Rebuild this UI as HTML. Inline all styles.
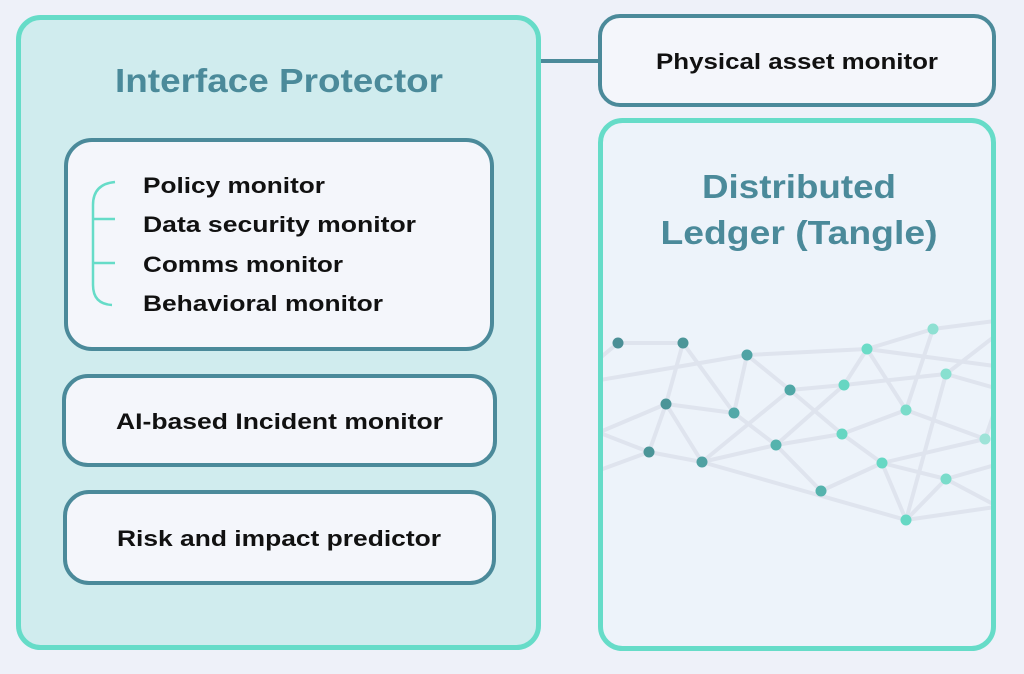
<!DOCTYPE html>
<html><head><meta charset="utf-8"><style>
html,body{margin:0;padding:0;background:#eef1f9;}
svg{display:block;}
text{font-family:"Liberation Sans",sans-serif;font-weight:bold;}
</style></head><body>
<svg width="1024" height="674" viewBox="0 0 1024 674" xmlns="http://www.w3.org/2000/svg">
<rect x="0" y="0" width="1024" height="674" fill="#eef1f9"/>
<line x1="540" y1="61" x2="600" y2="61" stroke="#4b8a9a" stroke-width="4"/>
<rect x="18.5" y="17.5" width="520" height="630" rx="22" fill="#d0ecee" stroke="#66dcc8" stroke-width="5"/>
<text x="279" y="92" font-size="33" fill="#4b8a9a" text-anchor="middle" textLength="328" lengthAdjust="spacingAndGlyphs">Interface Protector</text>
<rect x="66" y="140" width="426" height="209" rx="26" fill="#f4f6fb" stroke="#4b8a9a" stroke-width="4"/>
<path d="M115 182 Q93 184 93 205 L93 285 Q93 304 112 305" fill="none" stroke="#66dcc8" stroke-width="2.5"/>
<line x1="93" y1="219" x2="115" y2="219" stroke="#66dcc8" stroke-width="2.5"/>
<line x1="93" y1="263" x2="115" y2="263" stroke="#66dcc8" stroke-width="2.5"/>
<g font-size="22" fill="#111">
<text x="143" y="193" textLength="182" lengthAdjust="spacingAndGlyphs">Policy monitor</text>
<text x="143" y="232" textLength="273" lengthAdjust="spacingAndGlyphs">Data security monitor</text>
<text x="143" y="272" textLength="200" lengthAdjust="spacingAndGlyphs">Comms monitor</text>
<text x="143" y="311" textLength="240" lengthAdjust="spacingAndGlyphs">Behavioral monitor</text>
</g>
<rect x="64" y="376" width="431" height="89" rx="24" fill="#f4f6fb" stroke="#4b8a9a" stroke-width="4"/>
<text x="116" y="429" font-size="22" fill="#111" textLength="327" lengthAdjust="spacingAndGlyphs">AI-based Incident monitor</text>
<rect x="65" y="492" width="429" height="91" rx="24" fill="#f4f6fb" stroke="#4b8a9a" stroke-width="4"/>
<text x="117" y="546" font-size="22" fill="#111" textLength="324" lengthAdjust="spacingAndGlyphs">Risk and impact predictor</text>
<rect x="600" y="16" width="394" height="89" rx="20" fill="#f4f6fb" stroke="#4b8a9a" stroke-width="4"/>
<text x="656" y="69" font-size="22" fill="#111" textLength="282" lengthAdjust="spacingAndGlyphs">Physical asset monitor</text>
<rect x="600.5" y="120.5" width="393" height="528" rx="22" fill="#edf3fa" stroke="#66dcc8" stroke-width="5"/>
<text x="799" y="198" font-size="33" fill="#4b8a9a" text-anchor="middle" textLength="194" lengthAdjust="spacingAndGlyphs">Distributed</text>
<text x="799" y="244" font-size="33" fill="#4b8a9a" text-anchor="middle" textLength="277" lengthAdjust="spacingAndGlyphs">Ledger (Tangle)</text>
<clipPath id="c"><rect x="603" y="123" width="388" height="523"/></clipPath>
<g clip-path="url(#c)" stroke="#dfe4ee" stroke-width="4" fill="none" stroke-linecap="round">
<line x1="600" y1="358" x2="618" y2="343"/>
<line x1="618" y1="343" x2="683" y2="343"/>
<line x1="600" y1="380" x2="747" y2="355"/>
<line x1="747" y1="355" x2="867" y2="349"/>
<line x1="867" y1="349" x2="933" y2="329"/>
<line x1="933" y1="329" x2="995" y2="321"/>
<line x1="867" y1="349" x2="995" y2="366"/>
<line x1="946" y1="374" x2="995" y2="336"/>
<line x1="946" y1="374" x2="995" y2="388"/>
<line x1="790" y1="390" x2="844" y2="385"/>
<line x1="844" y1="385" x2="946" y2="374"/>
<line x1="844" y1="385" x2="867" y2="349"/>
<line x1="867" y1="349" x2="906" y2="410"/>
<line x1="906" y1="410" x2="933" y2="329"/>
<line x1="683" y1="343" x2="666" y2="404"/>
<line x1="683" y1="343" x2="734" y2="413"/>
<line x1="747" y1="355" x2="734" y2="413"/>
<line x1="747" y1="355" x2="790" y2="390"/>
<line x1="600" y1="432" x2="666" y2="404"/>
<line x1="666" y1="404" x2="734" y2="413"/>
<line x1="734" y1="413" x2="776" y2="445"/>
<line x1="790" y1="390" x2="842" y2="434"/>
<line x1="790" y1="390" x2="702" y2="462"/>
<line x1="844" y1="385" x2="776" y2="445"/>
<line x1="776" y1="445" x2="842" y2="434"/>
<line x1="842" y1="434" x2="906" y2="410"/>
<line x1="906" y1="410" x2="985" y2="439"/>
<line x1="985" y1="439" x2="995" y2="410"/>
<line x1="600" y1="433" x2="649" y2="452"/>
<line x1="666" y1="404" x2="649" y2="452"/>
<line x1="666" y1="404" x2="702" y2="462"/>
<line x1="600" y1="470" x2="649" y2="452"/>
<line x1="649" y1="452" x2="702" y2="462"/>
<line x1="702" y1="462" x2="776" y2="445"/>
<line x1="776" y1="445" x2="821" y2="491"/>
<line x1="842" y1="434" x2="882" y2="463"/>
<line x1="882" y1="463" x2="985" y2="439"/>
<line x1="882" y1="463" x2="946" y2="479"/>
<line x1="946" y1="479" x2="995" y2="465"/>
<line x1="946" y1="479" x2="995" y2="505"/>
<line x1="946" y1="374" x2="906" y2="520"/>
<line x1="702" y1="462" x2="906" y2="520"/>
<line x1="821" y1="491" x2="882" y2="463"/>
<line x1="882" y1="463" x2="906" y2="520"/>
<line x1="946" y1="479" x2="906" y2="520"/>
<line x1="906" y1="520" x2="995" y2="507"/>
</g>
<g>
<circle cx="618" cy="343" r="5.5" fill="#4b8f96"/>
<circle cx="683" cy="343" r="5.5" fill="#4b9598"/>
<circle cx="747" cy="355" r="5.5" fill="#4fa3a4"/>
<circle cx="867" cy="349" r="5.5" fill="#6bdcc7"/>
<circle cx="933" cy="329" r="5.5" fill="#8ee0d2"/>
<circle cx="946" cy="374" r="5.5" fill="#88e0d0"/>
<circle cx="790" cy="390" r="5.5" fill="#4fa7a6"/>
<circle cx="844" cy="385" r="5.5" fill="#66d6c2"/>
<circle cx="666" cy="404" r="5.5" fill="#4b9598"/>
<circle cx="734" cy="413" r="5.5" fill="#52a8a8"/>
<circle cx="906" cy="410" r="5.5" fill="#7adcca"/>
<circle cx="985" cy="439" r="5.5" fill="#9ee3d8"/>
<circle cx="776" cy="445" r="5.5" fill="#55b3ad"/>
<circle cx="842" cy="434" r="5.5" fill="#66d6c2"/>
<circle cx="649" cy="452" r="5.5" fill="#4b9598"/>
<circle cx="702" cy="462" r="5.5" fill="#4fa1a2"/>
<circle cx="882" cy="463" r="5.5" fill="#66d8c4"/>
<circle cx="946" cy="479" r="5.5" fill="#7adcca"/>
<circle cx="821" cy="491" r="5.5" fill="#55b3ad"/>
<circle cx="906" cy="520" r="5.5" fill="#66d8c4"/>
</g>
</svg>
</body></html>
